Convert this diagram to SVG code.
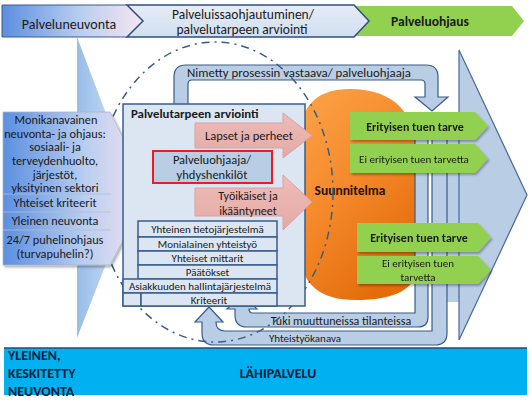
<svg xmlns="http://www.w3.org/2000/svg" width="532" height="403" viewBox="0 0 532 403">
<defs>
<linearGradient id="gLeft" x1="0" y1="0" x2="1" y2="0">
<stop offset="0" stop-color="#5b8fe0"/><stop offset="0.55" stop-color="#b8cdf0"/><stop offset="1" stop-color="#f6e6f0"/>
</linearGradient>
<linearGradient id="gFunnel" x1="0" y1="0" x2="1" y2="0">
<stop offset="0" stop-color="#98bde9"/><stop offset="1" stop-color="#dce9f7"/>
</linearGradient>
<linearGradient id="gMid" x1="0" y1="0" x2="0" y2="1">
<stop offset="0" stop-color="#e4ecf6"/><stop offset="1" stop-color="#d2dff0"/>
</linearGradient>
<linearGradient id="gOrange" x1="0" y1="0" x2="0.6" y2="1">
<stop offset="0" stop-color="#fca448"/><stop offset="0.5" stop-color="#f58a2c"/><stop offset="1" stop-color="#e46c0a"/>
</linearGradient>
<linearGradient id="gPink" x1="0" y1="0" x2="0" y2="1">
<stop offset="0" stop-color="#eebcb8"/><stop offset="1" stop-color="#e3aaa6"/>
</linearGradient>
<filter id="sh" x="-10%" y="-10%" width="130%" height="140%">
<feDropShadow dx="1.5" dy="2" stdDeviation="1.2" flood-color="#000" flood-opacity="0.3"/>
</filter>
</defs>
<style>
text{font-family:Carlito,Lato,"Liberation Sans",sans-serif;fill:#1a1a1a}
.c{text-anchor:middle}
.b{font-weight:bold}
.band{fill:#b9cde5;stroke:#385d8a;stroke-width:1.2}
.box{fill:#dce6f2;stroke:#385d8a;stroke-width:1.5}
.green{fill:#92d050}
.pink{fill:url(#gPink);stroke:#d8a2a0;stroke-width:1}
.s11{font-size:11px}
.s12{font-size:12px}
.navy{fill:#0d1d3d}
</style>

<g id="phase-bar">
<g id="palveluohjaus">
<polygon class="green" points="354,6 512,6 524,21 512,36 354,36 369,21"/>
<text class="c b" x="430" y="26" font-size="13.5">Palveluohjaus</text>
</g>
<g id="palveluneuvonta">
<polygon points="2,5 127,5 143,21 127,37 2,37" fill="url(#gLeft)" stroke="#385d8a" stroke-width="1"/>
<text class="c" x="69" y="29" font-size="14">Palveluneuvonta</text>
</g>
<g id="palveluissaohjautuminen">
<polygon points="127,5 354,5 369,21 354,37 127,37 143,21" fill="url(#gMid)" stroke="#2f4f7f" stroke-width="1.5"/>
<text class="c" x="243" y="18.5" font-size="13.5">Palveluissaohjautuminen/</text>
<text class="c" x="242" y="34" font-size="13.5">palvelutarpeen arviointi</text>
</g>
</g>

<g id="funnel">
<polygon points="77,37 135,190 77,338" fill="url(#gFunnel)"/>
</g>

<g id="big-arrow">
<rect x="440" y="112" width="20" height="190" fill="#b9cde5"/>
<polygon points="459,50 527,195 459,340" fill="#b9cde5" stroke="#4a6a9a" stroke-width="1.2"/>
</g>

<g id="suunnitelma">
<path d="M350,89 C395,89 418,115 418,160 L418,262 C418,290 395,300 355,300 C315,300 298,280 298,240 L298,150 C298,110 312,89 350,89 Z" fill="url(#gOrange)"/>
</g>

<g id="connectors">
<g id="yhteistyokanava">
<path class="band" d="M209,307 L223,322 L216,322 Q216,331 225,331 L432,331 L432,128 L447,128 L447,333 Q447,345 435,345 L214,345 Q202,345 202,333 L202,322 L195,322 Z"/>
<text class="c s11" x="305" y="342">Yhteistyökanava</text>
</g>
<g id="tuki">
<path class="band" d="M242,294 L257,309 L249,309 Q249,313 253,313 L415,313 L415,128 L428,128 L428,317 Q428,327 418,327 L247,327 Q235,327 235,315 L235,309 L227,309 Z"/>
<text class="c s12" x="341" y="324.5">Tuki muuttuneissa tilanteissa</text>
</g>
<g id="nimetty">
<path class="band" d="M174,106 L174,77 Q174,65 186,65 L426,65 Q438,65 438,77 L438,97 L448,97 L432,111 L415,97 L425,97 L425,84 Q425,80 421,80 L192,80 Q188,80 188,84 L188,106 Z"/>
<text class="c" x="299" y="76.5" font-size="12.8">Nimetty prosessin vastaava/ palveluohjaaja</text>
</g>
</g>

<g id="green-outcomes" filter="url(#sh)">
<g id="g1"><polygon class="green" points="350,112 475,112 488,126 475,140 350,140"/>
<text class="c b s12" x="415" y="130.5">Erityisen tuen tarve</text></g>
<g id="g2"><polygon class="green" points="350,144 475,144 488,158.5 475,173 350,173"/>
<text class="c s11" x="414" y="162.5">Ei erityisen tuen tarvetta</text></g>
<g id="g3"><polygon class="green" points="357,223 478,223 491,237.5 478,252 357,252"/>
<text class="c b s12" x="419" y="241.5">Erityisen tuen tarve</text></g>
<g id="g4"><polygon class="green" points="357,256 478,256 491,270 478,284 357,284"/>
<text class="c s11" x="418" y="267">Ei erityisen tuen</text>
<text class="c s11" x="418" y="281">tarvetta</text></g>
</g>
<text class="c b" x="350" y="195" font-size="13.5" style="fill:#2a1000">Suunnitelma</text>

<ellipse cx="215" cy="192" rx="118" ry="150" fill="none" stroke="#385d8a" stroke-width="1.5" stroke-dasharray="8 5 2 5"/>

<g id="left-box">
<polygon points="3,112 110,112 150,190 110,265 3,265" fill="url(#gLeft)" stroke="#a8b4c8" stroke-width="0.8" filter="url(#sh)"/>
<g stroke="#b8bccc" stroke-width="0.8">
<line x1="3" y1="194" x2="111" y2="194"/>
<line x1="3" y1="212" x2="111" y2="212"/>
<line x1="3" y1="230" x2="111" y2="230"/>
</g>
<g font-size="12.3">
<text class="c" x="56" y="124">Monikanavainen</text>
<text class="c" x="55" y="137.5">neuvonta- ja ohjaus:</text>
<text class="c" x="55" y="151">sosiaali- ja</text>
<text class="c" x="55" y="165">terveydenhuolto,</text>
<text class="c" x="55" y="178.5">järjestöt,</text>
<text class="c" x="55" y="192">yksityinen sektori</text>
<text class="c" x="55" y="207">Yhteiset kriteerit</text>
<text class="c" x="55" y="225">Yleinen neuvonta</text>
<text class="c" x="55" y="244">24/7 puhelinohjaus</text>
<text class="c" x="55" y="258">(turvapuhelin?)</text>
</g>
</g>

<g id="palvelutarpeen-arviointi">
<rect class="box" x="123" y="104" width="182" height="202"/>
<text class="b" x="131" y="118" font-size="12.8">Palvelutarpeen arviointi</text>
</g>

<g id="lapset">
<polygon class="pink" points="195,123 283,123 283,113 312,135.5 283,158 283,148 195,148"/>
<text class="c" x="249" y="140" font-size="12.5">Lapset ja perheet</text>
</g>
<g id="tyoikaiset">
<polygon class="pink" points="195,188 283,188 283,175 312,202 283,230 283,216 195,216"/>
<text class="c" x="248" y="200" font-size="12">Työikäiset ja</text>
<text class="c" x="248" y="214.5" font-size="12">ikääntyneet</text>
</g>
<g id="palveluohjaaja">
<rect x="153" y="151" width="119" height="32" fill="#b9cde5" stroke="#ee1c1c" stroke-width="2"/>
<text class="c" x="212" y="164" font-size="12.5">Palveluohjaaja/</text>
<text class="c" x="212" y="179" font-size="12.5">yhdyshenkilöt</text>
</g>

<g id="stack">
<rect class="box" x="138" y="221" width="139" height="16"/>
<text class="c s11" x="207.5" y="233">Yhteinen tietojärjestelmä</text>
<rect class="box" x="138" y="237" width="139" height="14"/>
<text class="c s11" x="207.5" y="248">Monialainen yhteistyö</text>
<rect class="box" x="138" y="251" width="139" height="14"/>
<text class="c s11" x="207.5" y="262">Yhteiset mittarit</text>
<rect class="box" x="138" y="265" width="139" height="14"/>
<text class="c s11" x="207.5" y="276">Päätökset</text>
<rect class="box" x="123" y="279" width="154" height="14"/>
<text class="c s11" x="200" y="290">Asiakkuuden hallintajärjestelmä</text>
<rect class="box" x="123" y="293" width="18" height="13"/>
<rect class="box" x="141" y="293" width="136" height="13"/>
<text class="c s11" x="209" y="303.5">Kriteerit</text>
</g>

<g id="bottom-bar">
<rect x="4" y="348" width="523" height="47" fill="#00b0f0"/>
<line x1="4" y1="348" x2="527" y2="348" stroke="#1f4e79" stroke-width="1.5"/>
<g class="b" font-size="14">
<text class="navy" x="8" y="359.5">YLEINEN,</text>
<text class="navy" x="8" y="378">KESKITETTY</text>
<text class="navy" x="8" y="395.5">NEUVONTA</text>
<text class="c navy" x="278" y="378">LÄHIPALVELU</text>
</g>
</g>
</svg>
